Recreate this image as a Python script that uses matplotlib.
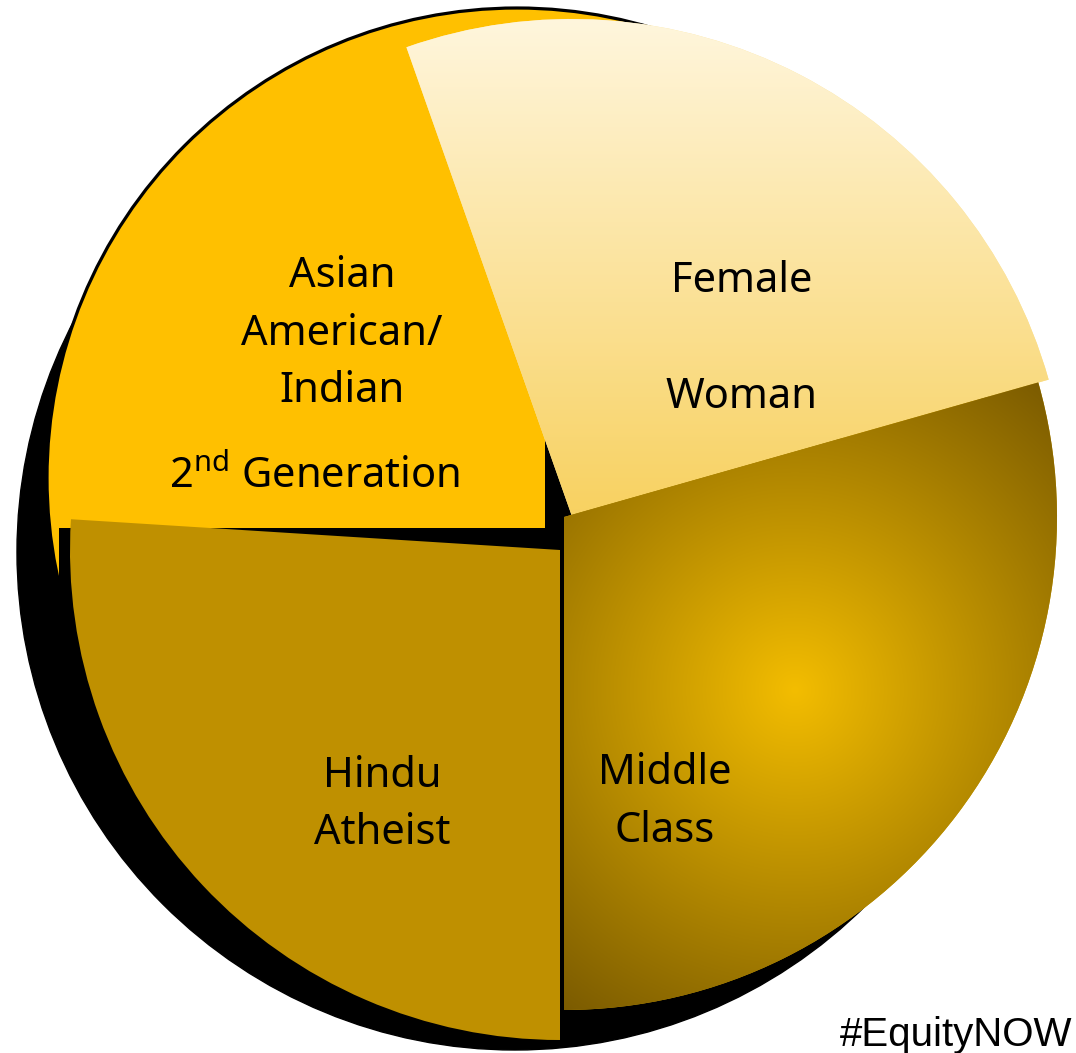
import numpy as np
import matplotlib
matplotlib.use("Agg")
import matplotlib.pyplot as plt
from matplotlib.patches import Circle, Polygon
from matplotlib.colors import to_rgb

# ---------------- data ----------------
categories = ["Middle Class", "Female / Woman",
              "Asian American / Indian, 2nd Generation", "Hindu Atheist"]
shares = [29.4, 26.0, 18.6, 26.0]          # share of the circle (%)
slice_colors = ["#C99A00", "#FBE49C", "#FFC000", "#BF9000"]
label_lines = [
    ["Middle", "Class"],
    ["Female", "", "Woman"],
    ["Asian", "American/", "Indian", r"2$^{\mathrm{nd}}$ Generation"],
    ["Hindu", "Atheist"],
]
footer = "#EquityNOW"

# ---------------- style ----------------
plt.rcParams["mathtext.fontset"] = "custom"
plt.rcParams["mathtext.rm"] = "Noto Sans"
LABEL_FONT = "Noto Sans"

W, H = 1076, 1053


def Y(p):
    return H - p


fig = plt.figure(figsize=(W / 100, H / 100), dpi=100)
ax = fig.add_axes([0, 0, 1, 1])

wedges, _ = ax.pie(shares, colors=slice_colors, startangle=-90,
                   counterclock=True, radius=490, center=(545, Y(528)),
                   wedgeprops=dict(linewidth=0))

# exploded / offset placement of each slice (pixel centre, radius, zorder)
placement = [((564, 517), 493, 6),
             ((571.5, 515), 496, 5),
             ((545, 528), 470, 3),
             ((560, 550), 490, 4)]
for w, (c, r, z) in zip(wedges, placement):
    w.set_center((c[0], Y(c[1])))
    w.set_radius(r)
    w.set_zorder(z)

# decorative drop shadow and gold backing disk
ax.add_patch(Circle((515, Y(552)), 498, color="black", zorder=1))
gold_clip = Polygon([(-10, Y(-10)), (1100, Y(-10)), (1100, Y(438)),
                     (545, Y(438)), (545, Y(528)), (59, Y(528)),
                     (59, Y(1100)), (-10, Y(1100))], closed=True,
                    transform=ax.transData, facecolor="none")
gold_disk = Circle((517, Y(478)), 470, facecolor="#FFC000",
                   edgecolor="black", linewidth=2.3, zorder=2)
ax.add_patch(gold_disk)
gold_disk.set_clip_path(gold_clip)

# Female: vertical linear gradient
top_c, bot_c = np.array(to_rgb("#FFF6DD")), np.array(to_rgb("#F8D263"))
rows = np.arange(0, 521)
t = np.clip((rows - 19) / (505 - 19), 0, 1)[:, None, None]
grad = top_c * (1 - t) + bot_c * t
im = ax.imshow(grad, extent=(0, W, Y(520), Y(0)), origin="upper",
               aspect="auto", interpolation="bilinear", zorder=5.1)
im.set_clip_path(wedges[1])

# Middle Class: radial gradient
xs = np.linspace(540, 1070, 270)
ys = np.linspace(360, 1030, 340)
XX, YY = np.meshgrid(xs, ys)
d = np.hypot(XX - 795, YY - 690)
t = np.clip(d / 400, 0, 1)[..., None]
c0, c1 = np.array(to_rgb("#F3BD00")), np.array(to_rgb("#7A5A00"))
rad = c0 * (1 - t) + c1 * t
im2 = ax.imshow(rad, extent=(540, 1070, Y(1030), Y(360)), origin="upper",
                aspect="auto", interpolation="bilinear", zorder=6.1)
im2.set_clip_path(wedges[0])

# ---------------- labels ----------------
label_pos = [
    (665, [784, 842]),
    (742, [292, 350, 408]),
    (342, [287, 345, 402, 488]),
    (382, [787, 844]),
]
for lines, (x, bases) in zip(label_lines, label_pos):
    for txt, b in zip(lines, bases):
        if not txt:
            continue
        xx = 315 if "Generation" in txt else x
        ax.text(xx, Y(b), txt, ha="center", va="baseline",
                fontsize=30, family=LABEL_FONT, color="black", zorder=10)

ax.text(1072, Y(1046), footer, ha="right", va="baseline", fontsize=29,
        family="Liberation Sans", color="black", zorder=10)

ax.set_xlim(0, W)
ax.set_ylim(0, H)
ax.set_aspect("auto")
ax.axis("off")
fig.savefig("out.png", dpi=100, facecolor="white")
